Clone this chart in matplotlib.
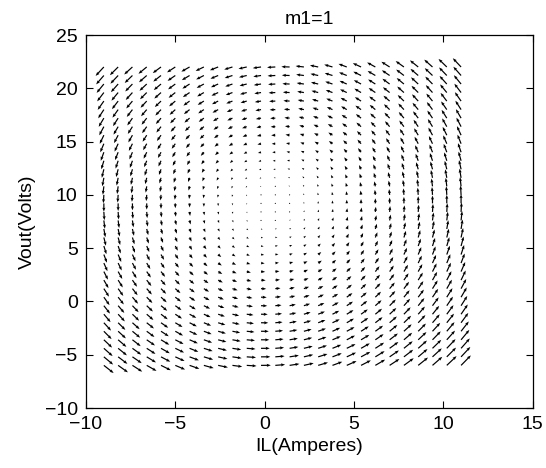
import numpy as np
import matplotlib
matplotlib.use("Agg")
import matplotlib.pyplot as plt

# grid of (IL, Vout) points
il_values = np.arange(-9.0, 11.0 + 1e-9, 0.8)
vout_values = np.arange(-6.0, 22.0 + 1e-9, 0.8)

# averaged converter model, m1 = 1
m1 = 1.0
Vin = 9.2
R = 20.0
L = 1.0
C = 0.435
arrow_scale = 0.036

x_ticks = [-10, -5, 0, 5, 10, 15]
y_ticks = [-10, -5, 0, 5, 10, 15, 20, 25]

plt.rcParams['font.family'] = ['Liberation Sans', 'DejaVu Sans']

IL, V = np.meshgrid(il_values, vout_values)
dIL = (Vin - m1 * V) / L
dV = (m1 * IL - V / R) / C

fig = plt.figure(figsize=(5.46, 4.68), dpi=100)
ax = fig.add_axes([0.1575, 0.1282, 0.8178, 0.797])

ax.quiver(IL, V, dIL * arrow_scale, dV * arrow_scale,
          angles='xy', scale_units='xy', scale=1.0,
          color='black', width=0.0027, headwidth=2.6,
          headlength=3.4, headaxislength=3.0, pivot='tail')

ax.set_xlim(-10, 15)
ax.set_ylim(-10, 25)
ax.set_xticks(x_ticks)
ax.set_yticks(y_ticks)
ax.tick_params(direction='in', top=True, right=True, length=5,
               width=0.8, labelsize=14, pad=6)
for s in ax.spines.values():
    s.set_linewidth(0.9)
ax.set_xlabel('IL(Amperes)', fontsize=14, labelpad=3)
ax.set_ylabel('Vout(Volts)', fontsize=14, labelpad=6)
ax.set_title('m1=1', fontsize=14, pad=8)

fig.savefig('out.png', dpi=100)
